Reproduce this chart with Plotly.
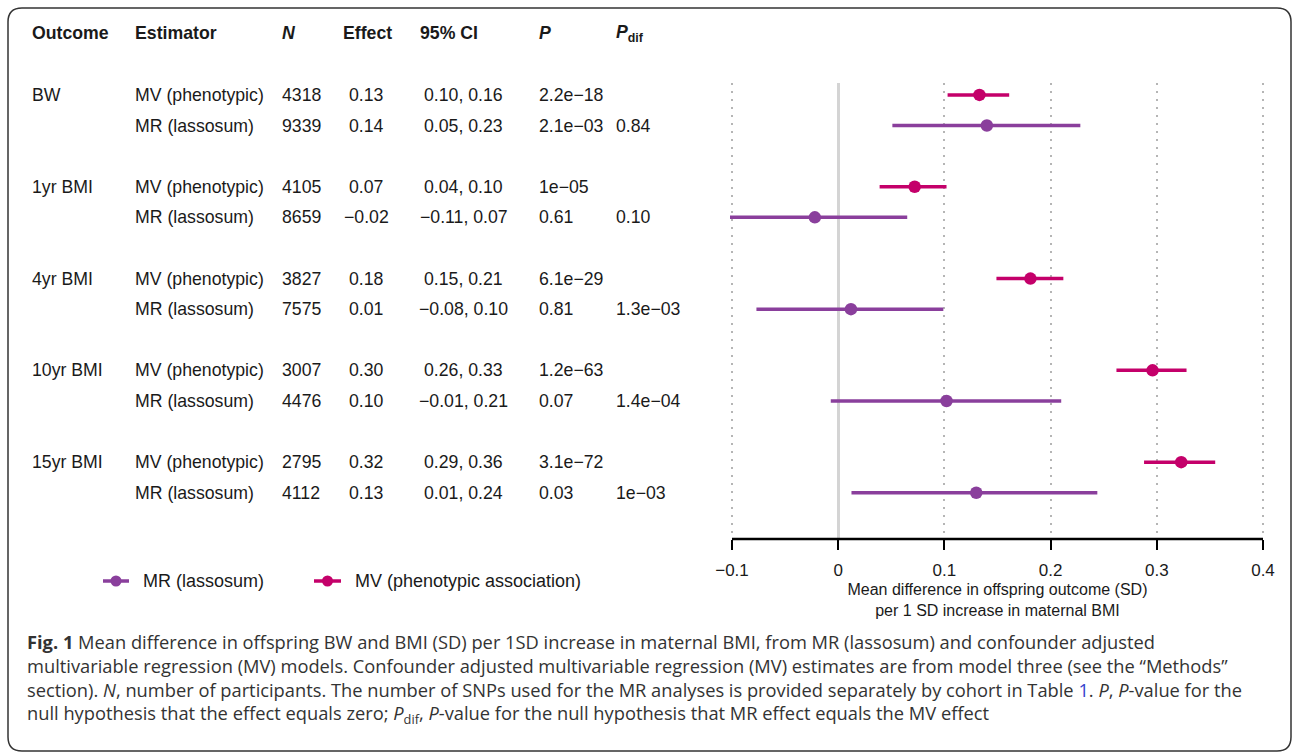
import plotly.graph_objects as go

# ---------------- data ----------------
outcomes = ["BW", "1yr BMI", "4yr BMI", "10yr BMI", "15yr BMI"]
estimators = ["MV (phenotypic)", "MR (lassosum)"]

n_mv = [4318, 4105, 3827, 3007, 2795]
n_mr = [9339, 8659, 7575, 4476, 4112]

eff_mv = [0.133, 0.072, 0.181, 0.296, 0.323]
lo_mv = [0.103, 0.039, 0.149, 0.262, 0.288]
hi_mv = [0.161, 0.102, 0.212, 0.328, 0.355]

eff_mr = [0.140, -0.022, 0.012, 0.102, 0.130]
lo_mr = [0.051, -0.112, -0.077, -0.007, 0.0125]
hi_mr = [0.228, 0.065, 0.099, 0.210, 0.244]

eff_mv_txt = ["0.13", "0.07", "0.18", "0.30", "0.32"]
eff_mr_txt = ["0.14", "−0.02", "0.01", "0.10", "0.13"]
ci_mv_txt = ["0.10, 0.16", "0.04, 0.10", "0.15, 0.21", "0.26, 0.33", "0.29, 0.36"]
ci_mr_txt = ["0.05, 0.23", "−0.11, 0.07", "−0.08, 0.10", "−0.01, 0.21", "0.01, 0.24"]
p_mv_txt = ["2.2e−18", "1e−05", "6.1e−29", "1.2e−63", "3.1e−72"]
p_mr_txt = ["2.1e−03", "0.61", "0.81", "0.07", "0.03"]
pdif_txt = ["0.84", "0.10", "1.3e−03", "1.4e−04", "1e−03"]

tick_vals = [-0.1, 0, 0.1, 0.2, 0.3, 0.4]
tick_text = ["−0.1", "0", "0.1", "0.2", "0.3", "0.4"]

legend_names = ["MR (lassosum)", "MV (phenotypic association)"]

col_mv = "#C4006A"
col_mr = "#8A3F9C"

W, H = 1295, 755


def px(x):
    return x / W


def py(y):
    return 1 - y / H


# row positions: group*3 + (0 for MV, 1 for MR)
y_mv = [g * 3 for g in range(len(outcomes))]
y_mr = [g * 3 + 1 for g in range(len(outcomes))]

fig = go.Figure()

fig.add_trace(go.Scatter(
    x=eff_mv, y=y_mv, mode="markers", name="MV (phenotypic association)",
    marker=dict(size=12.5, color=col_mv),
    error_x=dict(type="data", symmetric=False,
                 array=[h - e for h, e in zip(hi_mv, eff_mv)],
                 arrayminus=[e - l for e, l in zip(eff_mv, lo_mv)],
                 color=col_mv, thickness=3.5, width=0),
    showlegend=False, hoverinfo="skip"))

fig.add_trace(go.Scatter(
    x=eff_mr, y=y_mr, mode="markers", name="MR (lassosum)",
    marker=dict(size=12.5, color=col_mr),
    error_x=dict(type="data", symmetric=False,
                 array=[h - e for h, e in zip(hi_mr, eff_mr)],
                 arrayminus=[e - l for e, l in zip(eff_mr, lo_mr)],
                 color=col_mr, thickness=3.5, width=0),
    showlegend=False, hoverinfo="skip"))

annotations = []
shapes = []
tfont = dict(family="Liberation Sans, Arial, sans-serif", size=17.7, color="#1a1a1a")

# header
hdr_y = py(33)
headers = [
    (30, "<b>Outcome</b>", "left"),
    (133, "<b>Estimator</b>", "left"),
    (280, "<b><i>N</i></b>", "left"),
    (368, "<b>Effect</b>", "center"),
    (449, "<b>95% CI</b>", "center"),
    (537, "<b><i>P</i></b>", "left"),
    (614, "<b><i>P</i><sub>dif</sub></b>", "left"),
]
for x, t, anc in headers:
    annotations.append(dict(x=px(x), y=hdr_y, xref="paper", yref="paper",
                            text=t, showarrow=False, xanchor=anc,
                            yanchor="middle", font=tfont))

for g in range(len(outcomes)):
    rows = [
        (y_mv[g], outcomes[g], estimators[0], str(n_mv[g]), eff_mv_txt[g],
         ci_mv_txt[g], p_mv_txt[g], ""),
        (y_mr[g], "", estimators[1], str(n_mr[g]), eff_mr_txt[g],
         ci_mr_txt[g], p_mr_txt[g], pdif_txt[g]),
    ]
    for yy, oc, es, nn, ef, ci, pp, pd in rows:
        cells = [(30, oc, "left"), (133, es, "left"), (280, nn, "left"),
                 (366, ef, "center"), (464, ci, "center"), (537, pp, "left"),
                 (614, pd, "left")]
        for x, t, anc in cells:
            if t:
                annotations.append(dict(x=px(x), y=yy, xref="paper", yref="y",
                                        text=t, showarrow=False, xanchor=anc,
                                        yanchor="middle", font=tfont))

# legend (drawn manually: line + dot + label)
leg_y = 581
for (x0, x1, xt), name, col in zip([(103, 129, 141), (314, 341, 353)],
                                   legend_names, [col_mr, col_mv]):
    shapes.append(dict(type="line", xref="paper", yref="paper",
                       x0=px(x0), x1=px(x1), y0=py(leg_y), y1=py(leg_y),
                       line=dict(color=col, width=3.5)))
    cx = (x0 + x1) / 2
    shapes.append(dict(type="circle", xref="paper", yref="paper",
                       x0=px(cx - 5.5), x1=px(cx + 5.5),
                       y0=py(leg_y - 5.5), y1=py(leg_y + 5.5),
                       fillcolor=col, line=dict(color=col, width=0)))
    annotations.append(dict(x=px(xt), y=py(leg_y), xref="paper", yref="paper",
                            text=name, showarrow=False, xanchor="left",
                            yanchor="middle",
                            font=dict(family="Liberation Sans, Arial, sans-serif",
                                      size=18, color="#1a1a1a")))

# caption (one multi-line text block)
cfont = dict(family="Open Sans, Noto Sans, sans-serif", size=18.3, color="#333333")
caption = [
    "<b>Fig. 1</b> Mean difference in offspring BW and BMI (SD) per 1SD increase in maternal BMI, from MR (lassosum) and confounder adjusted",
    "multivariable regression (MV) models. Confounder adjusted multivariable regression (MV) estimates are from model three (see the “Methods”",
    "section). <i>N</i>, number of participants. The number of SNPs used for the MR analyses is provided separately by cohort in Table <span style='color:#3344cc'>1</span>. <i>P</i>, <i>P</i>-value for the",
    "null hypothesis that the effect equals zero; <i>P</i><sub>dif</sub>, <i>P</i>-value for the null hypothesis that MR effect equals the MV effect",
]
annotations.append(dict(x=px(25), y=py(627), xref="paper", yref="paper",
                        text="<br>".join(caption), showarrow=False,
                        xanchor="left", yanchor="top", align="left",
                        font=cfont))

# rounded outer frame
L, T, R, B, r = 8, 8, 1291, 751, 14
path = (f"M {px(L + r)},{py(T)} L {px(R - r)},{py(T)} Q {px(R)},{py(T)} {px(R)},{py(T + r)} "
        f"L {px(R)},{py(B - r)} Q {px(R)},{py(B)} {px(R - r)},{py(B)} "
        f"L {px(L + r)},{py(B)} Q {px(L)},{py(B)} {px(L)},{py(B - r)} "
        f"L {px(L)},{py(T + r)} Q {px(L)},{py(T)} {px(L + r)},{py(T)} Z")
shapes.append(dict(type="path", path=path, xref="paper", yref="paper",
                   line=dict(color="#333333", width=1.5), layer="above"))

# x axis: -0.1 at pixel 732, 0.4 at pixel 1263 (small padding so edge gridlines show)
x_lo, x_hi = -0.102, 0.402
ppu = (1263 - 732) / 0.5
dom_l = 732 - (-0.1 - x_lo) * ppu
dom_r = 1263 + (x_hi - 0.4) * ppu

fig.update_layout(
    width=W, height=H, autosize=False,
    margin=dict(l=0, r=0, t=0, b=0),
    paper_bgcolor="white", plot_bgcolor="white",
    showlegend=False,
    font=dict(family="Liberation Sans, Arial, sans-serif", color="#1a1a1a"),
    xaxis=dict(domain=[px(dom_l), px(dom_r)], range=[x_lo, x_hi],
               tickvals=tick_vals, ticktext=tick_text,
               showline=False,
               ticks="outside", ticklen=10, tickwidth=2, tickcolor="black",
               ticklabelstandoff=6,
               tickfont=dict(size=17, color="#1a1a1a"),
               showgrid=True, gridcolor="#b5b5b5", griddash="2px,6px", gridwidth=1.5,
               zeroline=True, zerolinecolor="#d4d4d4", zerolinewidth=3,
               title=dict(text="Mean difference in offspring outcome (SD)<br>per 1 SD increase in maternal BMI",
                          font=dict(size=16, color="#1a1a1a"), standoff=4),
               automargin=False, fixedrange=True),
    yaxis=dict(domain=[py(539), py(83)], range=[14.51, -0.39],
               visible=False, fixedrange=True),
    annotations=annotations,
    shapes=shapes,
)

# axis baseline spanning exactly from the first to the last tick
fig.add_shape(type="line", xref="x", yref="paper",
              x0=tick_vals[0], x1=tick_vals[-1], y0=py(539), y1=py(539),
              line=dict(color="black", width=2.5))

fig.write_html("out.html", config={"responsive": False, "displayModeBar": False},
               post_script="document.body.style.margin='0';document.body.style.overflow='hidden';")
